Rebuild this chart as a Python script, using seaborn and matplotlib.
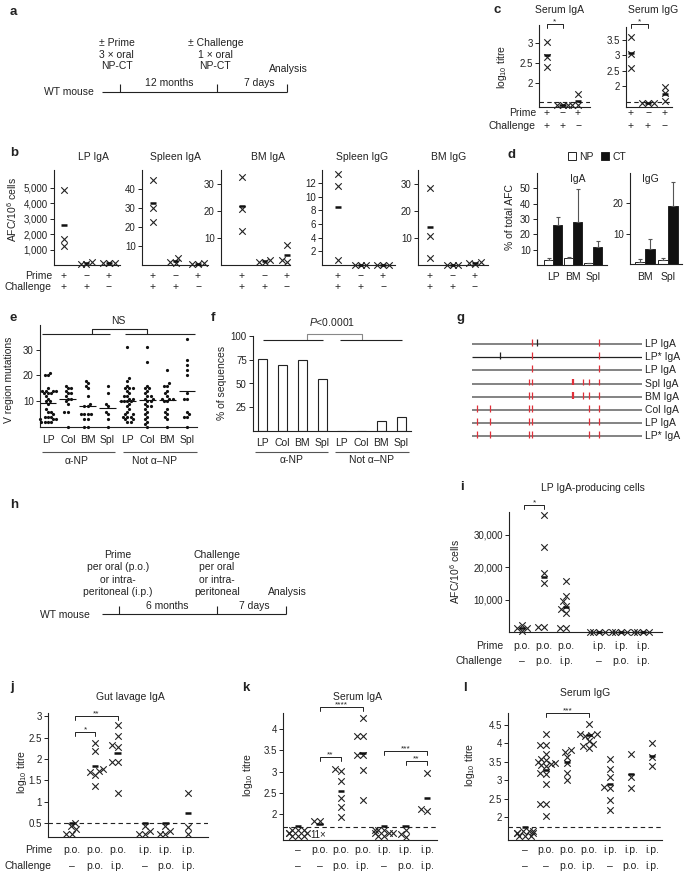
import warnings
import numpy as np
import pandas as pd
import matplotlib
matplotlib.use("Agg")
import matplotlib.pyplot as plt
import matplotlib.transforms as mtransforms
from matplotlib.markers import MarkerStyle
from matplotlib.patches import Patch
import seaborn as sns

warnings.filterwarnings("ignore")

sns.set_theme(style="ticks")
plt.rcParams["font.family"] = ["Liberation Sans", "DejaVu Sans"]
plt.rcParams["mathtext.fontset"] = "custom"
plt.rcParams["mathtext.rm"] = "Liberation Sans"
plt.rcParams["mathtext.it"] = "Liberation Sans:italic"
plt.rcParams["font.size"] = 7
plt.rcParams["axes.linewidth"] = 0.8
plt.rcParams["axes.edgecolor"] = "#222222"
plt.rcParams["text.color"] = "#222222"
plt.rcParams["ytick.color"] = "#222222"

# ---------------- data ----------------
# b: AFC/10^6 cells, groups (prime/challenge) = +/+, -/+, +/-
b_titles = ["LP IgA", "Spleen IgA", "BM IgA", "Spleen IgG", "BM IgG"]
b_lp_iga = [[4850, 1650, 1250], [50, 80, 200], [150, 150, 150]]
b_spleen_iga = [[44.5, 30, 22.5], [3.5, 1.5, 1.0], [0.6, 0.6, 1.0]]
b_bm_iga = [[32.5, 20.5, 12.5], [2.0, 1.2, 1.2], [7.5, 2.0, 1.0]]
b_spleen_igg = [[13.3, 11.5, 0.8], [0, 0, 0], [0, 0, 0]]
b_bm_igg = [[28.5, 10.5, 2.5], [0, 0, 0], [0.5, 1.0, 0.8]]
prime_pm = ["+", "−", "+"]
challenge_pm = ["+", "+", "−"]

# c: serum log10 titre
c_serum_iga = [[3.02, 2.65, 2.40], [1.45, 1.45, 1.45], [1.72, 1.45, 1.45]]
c_serum_igg = [[3.58, 3.05, 2.60], [1.45, 1.45, 1.45], [1.97, 1.78, 1.50]]
c_limit = [1.52, 1.48]

# d: % of total AFC (NP vs CT)
d_iga_tissue = ["LP", "BM", "Spl"]
d_iga_np = [3.0, 4.5, 1.2]
d_iga_np_err = [1.5, 1.0, 0.2]
d_iga_ct = [26.0, 28.0, 11.5]
d_iga_ct_err = [5.5, 21.5, 4.0]
d_igg_tissue = ["BM", "Spl"]
d_igg_np = [0.7, 1.2]
d_igg_np_err = [0.8, 0.8]
d_igg_ct = [5.0, 19.2]
d_igg_ct_err = [3.3, 7.8]

# e: V region mutations per sequence
e_labels = ["LP", "Col", "BM", "Spl", "LP", "Col", "BM", "Spl"]
e_np_lp = [21, 20, 20, 15, 14, 14, 14, 14, 13, 13, 13, 12, 11, 10, 10, 9, 7, 6, 6, 5,
           4, 4, 4, 3, 3, 3, 2, 2, 2, 2]
e_np_col = [16, 15, 15, 14, 13, 13, 12, 11, 11, 10, 9, 6, 6, 0]
e_np_bm = [18, 17, 16, 15, 12, 9, 8, 8, 5, 5, 5, 5, 3, 3, 0, 0]
e_np_spl = [16, 13, 9, 8, 6, 5, 3, 0]
e_not_lp = [31, 19, 18, 16, 15, 15, 15, 14, 13, 12, 12, 11, 11, 10, 10, 10, 10, 9, 8, 7,
            6, 5, 5, 4, 4, 4, 3, 3, 2, 2]
e_not_col = [31, 25, 16, 15, 15, 14, 13, 12, 12, 11, 11, 10, 10, 9, 8, 8, 7, 6, 5, 4,
             3, 2, 1, 0]
e_not_bm = [22, 17, 16, 16, 14, 13, 12, 11, 11, 11, 10, 10, 7, 6, 5, 4, 3, 0]
e_not_spl = [34, 26, 24, 22, 20, 13, 11, 11, 6, 5, 4, 4, 0]

# f: % of sequences
f_pct = [76, 69, 75, 55, 0, 0, 10, 15]

# g: mutation positions along V region (nt)
g_rows = ["LP IgA", "LP* IgA", "LP IgA", "Spl IgA", "BM IgA", "Col IgA", "LP IgA", "LP* IgA"]
g_red = [[105, 224], [105, 224], [105, 224],
         [100, 106, 178, 196, 207, 224], [100, 106, 178, 196, 207, 224],
         [8, 32, 100, 106, 207, 224], [8, 32, 100, 106, 207, 224], [8, 32, 100, 106, 207, 224]]
g_black = [[114], [50], [], [], [], [], [], []]

# i-l: prime / challenge groups
prime_route = ["p.o.", "p.o.", "p.o.", "i.p.", "i.p.", "i.p."]
challenge_route = ["–", "p.o.", "i.p.", "–", "p.o.", "i.p."]
prime_route7 = ["–", "p.o.", "p.o.", "p.o.", "i.p.", "i.p.", "i.p."]
challenge_route7 = ["–", "–", "p.o.", "i.p.", "–", "p.o.", "i.p."]

i_lp_iga = [[2150, 1300, 1100, 400], [36000, 26200, 18200, 15000, 1600, 1600],
            [15800, 11000, 9500, 8000, 7000, 6000, 1300, 1300],
            [150, 150, 150, 150], [150, 150, 150, 150], [150, 150, 150, 150]]
i_means = [1250, 16900, 7700, 150, 150, 150]

j_gut_iga = [[0.5, 0.42, 0.35, 0.25, 0.25], [2.38, 2.18, 1.76, 1.72, 1.70, 1.62, 1.37],
             [2.79, 2.53, 2.33, 2.28, 1.92, 1.92, 1.2], [0.42, 0.3, 0.25, 0.25],
             [0.42, 0.32, 0.25, 0.25], [1.2, 0.4, 0.25]]
j_means = [0.5, 1.84, 2.14, 0.5, 0.5, 0.73]
j_limit = 0.5

k_serum_iga = [[1.62, 1.62, 1.62, 1.55, 1.55, 1.55, 1.48, 1.48, 1.48], [1.84, 1.84],
               [3.05, 3.02, 2.79, 2.38, 2.16, 1.93], [4.26, 3.84, 3.84, 3.4, 3.4, 3.04, 2.33],
               [1.62, 1.62, 1.62, 1.55, 1.55, 1.55, 1.48, 1.48], [1.62, 1.52, 1.45],
               [2.96, 2.12, 2.08]]
k_means = [1.72, 1.76, 2.55, 3.43, 1.72, 1.72, 2.38]
k_limit = 1.7

l_serum_igg = [[1.62, 1.62, 1.62, 1.55, 1.55, 1.55, 1.48, 1.48, 1.48],
               [4.26, 3.97, 3.97, 3.72, 3.58, 3.55, 3.5, 3.48, 3.45, 3.42, 3.38, 3.2, 3.18,
                2.9, 2.35, 2.35, 2.03],
               [3.82, 3.77, 3.63, 3.47, 3.2, 3.0],
               [4.52, 4.27, 4.25, 4.22, 4.2, 4.08, 3.98, 3.92, 3.88],
               [3.58, 3.3, 3.1, 2.82, 2.78, 2.45, 2.18], [3.72, 3.1, 2.78], [4.02, 3.63, 3.38]]
l_means = [1.72, 3.28, 3.5, 4.22, 2.9, 3.18, 3.65]
l_limit = 1.72

# ---------------- layout helpers (pixels) ----------------
W, H = 685, 872
fig = plt.figure(figsize=(W / 100, H / 100), dpi=100)
INK = "#222222"

ov = fig.add_axes([0, 0, 1, 1], zorder=5)
ov.set_xlim(0, W)
ov.set_ylim(H, 0)
ov.axis("off")
ov.patch.set_visible(False)

# x marker drawn larger than the size used for swarm spacing, so crosses may touch
_xm = MarkerStyle("x")
BIG_X = _xm.get_path().transformed(_xm.get_transform() + mtransforms.Affine2D().scale(1.45))


def add_ax(left, right, top, bottom):
    ax = fig.add_axes([left / W, 1 - bottom / H, (right - left) / W, (bottom - top) / H])
    ax.patch.set_alpha(0)
    return ax


def text(x, y, s, size=7.5, **kw):
    kw.setdefault("ha", "center")
    kw.setdefault("va", "center")
    ov.text(x, y, s, fontsize=size, **kw)


def line(xs, ys, color=INK, lw=0.8):
    ov.plot(xs, ys, color=color, lw=lw, solid_capstyle="butt")


def row_text(ax, xs, y, labels, size=7.5):
    tr = mtransforms.blended_transform_factory(ax.transData, ov.transData)
    for x, s in zip(xs, labels):
        ax.text(x, y, s, transform=tr, ha="center", va="center", fontsize=size, clip_on=False)


def bracket(ax, x1, x2, y, label, color=INK, drop=4):
    tr = mtransforms.blended_transform_factory(ax.transData, ov.transData)
    ax.plot([x1, x1, x2, x2], [y + drop, y, y, y + drop], transform=tr, color=color,
            lw=0.7, clip_on=False)
    ax.text((x1 + x2) / 2, y - 1, label, transform=tr, ha="center", va="baseline",
            fontsize=6, clip_on=False)


def style(ax, ticks, labels=None):
    sns.despine(ax=ax)
    ax.set_xlabel("")
    ax.set_ylabel("")
    ax.set_xticks([])
    ax.set_yticks(ticks)
    if labels is not None:
        ax.set_yticklabels(labels)
    ax.tick_params(axis="y", length=3, width=0.7, pad=1.5, labelsize=7)


def xlim_px(spine, end, first, step):
    return ((spine - first) / step, (end - first) / step)


def cross_panel(box, pos, groups, means, xlim, ylim, ticks, labels=None, half=0.14,
                size=3.2):
    ax = add_ax(*box)
    df = pd.DataFrame({
        "pos": np.repeat(np.asarray(pos, float), [len(g) for g in groups]),
        "val": np.concatenate([np.asarray(g, float) for g in groups]),
    })
    sns.swarmplot(data=df, x="pos", y="val", native_scale=True, orient="v", marker="x",
                  color=INK, size=size, linewidth=0.8, ax=ax)
    for coll in ax.collections:
        coll.set_paths([BIG_X])
    p = np.asarray(pos, float)
    ax.hlines(means, p - half, p + half, color="#111111", lw=1.8, zorder=3)
    for coll in ax.collections:
        coll.set_clip_on(False)
    ax.set_xlim(*xlim)
    ax.set_ylim(*ylim)
    style(ax, ticks, labels)
    return ax


def limit_line(ax, y):
    ax.axhline(y, color=INK, lw=0.8, ls=(0, (4, 3)), zorder=1)


# ---------------- a: timeline ----------------
text(10, 12, "a", size=9.5, weight="bold", ha="left")
text(117, 43, "± Prime")
text(116, 55, "3 × oral")
text(117, 66, "NP-CT")
text(216, 43, "± Challenge")
text(215, 55, "1 × oral")
text(215, 66, "NP-CT")
text(288, 69, "Analysis")
text(169, 83, "12 months")
text(259, 83, "7 days")
text(94, 92, "WT mouse", ha="right")
line([102, 287], [92, 92])
for x in (120, 217, 287):
    line([x, x], [92, 84])

# ---------------- b ----------------
text(10, 153, "b", size=9.5, weight="bold", ha="left")
b_sets = [
    (b_lp_iga, (54, 120), 64, (0, 6130), [1000, 2000, 3000, 4000, 5000],
     ["1,000", "2,000", "3,000", "4,000", "5,000"], 93),
    (b_spleen_iga, (142, 208), 153, (0, 49.7), [10, 20, 30, 40], None, 175),
    (b_bm_iga, (221, 290), 242, (0, 35), [10, 20, 30], None, 268),
    (b_spleen_igg, (322, 395), 338, (0, 13.9), [2, 4, 6, 8, 10, 12], None, 362),
    (b_bm_igg, (418, 488), 430, (0, 35), [10, 20, 30], None, 449),
]
for k, (vals, (sx, ex), first, ylim, ticks, labs, tx) in enumerate(b_sets):
    means = [float(np.mean(g)) for g in vals]
    ax = cross_panel((sx, ex, 170, 265), [0, 1, 2], vals, means,
                     xlim_px(sx, ex, first, 22.5), ylim, ticks, labs, half=0.13)
    text(tx, 157, b_titles[k])
    row_text(ax, [0, 1, 2], 276, prime_pm)
    row_text(ax, [0, 1, 2], 287, challenge_pm)
text(52, 276, "Prime", ha="right")
text(52, 287, "Challenge", ha="right")
text(12, 210, "AFC/10$^6$ cells", rotation=90)

# ---------------- c ----------------
text(494, 10, "c", size=9.5, weight="bold", ha="left")
ax = cross_panel((539, 590, 25, 107), [0, 1, 2], c_serum_iga,
                 [float(np.mean(g)) for g in c_serum_iga],
                 xlim_px(539, 590, 547, 15.5), (1.4, 3.45), [2, 2.5, 3], ["2", "2.5", "3"],
                 half=0.2)
limit_line(ax, c_limit[0])
bracket(ax, 0, 1, 24, "*")
row_text(ax, [0, 1, 2], 113, prime_pm)
row_text(ax, [0, 1, 2], 126, challenge_pm)
text(560, 10, "Serum IgA")
ax = cross_panel((626, 672, 27, 107), [0, 1, 2], c_serum_igg,
                 [float(np.mean(g)) for g in c_serum_igg],
                 xlim_px(626, 672, 631, 17), (1.32, 3.92), [2, 2.5, 3, 3.5],
                 ["2", "2.5", "3", "3.5"], half=0.18)
limit_line(ax, c_limit[1])
bracket(ax, 0, 1, 24, "*")
row_text(ax, [0, 1, 2], 113, prime_pm)
row_text(ax, [0, 1, 2], 126, challenge_pm)
text(653, 10, "Serum IgG")
text(536, 113, "Prime", ha="right")
text(536, 126, "Challenge", ha="right")
text(502, 67, "log$_{10}$ titre", rotation=90)

# ---------------- d ----------------
text(508, 155, "d", size=9.5, weight="bold", ha="left")
d_palette = {"NP": "white", "CT": "#111111"}


def bar_pair(box, tissues, np_v, np_e, ct_v, ct_e, xlim, ylim, ticks, width):
    ax = add_ax(*box)
    df = pd.DataFrame({
        "tissue": tissues * 2,
        "antigen": ["NP"] * len(tissues) + ["CT"] * len(tissues),
        "pct": list(np_v) + list(ct_v),
    })
    sns.barplot(data=df, x="tissue", y="pct", hue="antigen", order=tissues,
                hue_order=["NP", "CT"], palette=d_palette, edgecolor=INK, linewidth=0.7,
                width=width, gap=0, errorbar=None, legend=False, ax=ax)
    pos = np.arange(len(tissues))
    for off, v, e in ((-width / 4, np_v, np_e), (width / 4, ct_v, ct_e)):
        ax.errorbar(pos + off, v, yerr=[np.zeros(len(v)), e], fmt="none", ecolor="#555555",
                    elinewidth=0.8, capsize=1.6, capthick=0.8)
    ax.set_xlim(*xlim)
    ax.set_ylim(*ylim)
    style(ax, ticks)
    row_text(ax, pos, 277, tissues)
    return ax


ax = bar_pair((537, 607, 173, 265), d_iga_tissue, d_iga_np, d_iga_np_err, d_iga_ct,
              d_iga_ct_err, (-0.8, 2.7), (0, 60), [10, 20, 30, 40, 50], 0.9)
text(578, 179, "IgA")
ax = bar_pair((630, 682, 173, 264), d_igg_tissue, d_igg_np, d_igg_np_err, d_igg_ct,
              d_igg_ct_err, (-0.65, 1.61), (0, 30), [10, 20], 0.85)
text(650, 179, "IgG")
text(510, 217, "% of total AFC", rotation=90)
handles = [Patch(facecolor=d_palette[h], edgecolor=INK, linewidth=0.7) for h in ("NP", "CT")]
fig.legend(handles, ["NP", "CT"], loc="center", bbox_to_anchor=(597 / W, 1 - 157 / H),
           ncol=2, frameon=False, fontsize=7.5, handlelength=0.8, handleheight=0.8,
           handletextpad=0.3, columnspacing=0.7)

# ---------------- e ----------------
text(10, 318, "e", size=9.5, weight="bold", ha="left")
e_groups = [e_np_lp, e_np_col, e_np_bm, e_np_spl, e_not_lp, e_not_col, e_not_bm, e_not_spl]
ax = add_ax(40, 197, 325, 427)
e_df = pd.DataFrame({
    "pos": np.repeat(np.arange(8, dtype=float), [len(g) for g in e_groups]),
    "mut": np.concatenate([np.asarray(g, float) for g in e_groups]),
})
sns.swarmplot(data=e_df, x="pos", y="mut", native_scale=True, orient="v", color="#111111",
              size=2.3, linewidth=0, ax=ax)
e_means = e_df.groupby("pos")["mut"].mean()
ax.hlines(e_means.values, e_means.index - 0.42, e_means.index + 0.42, color="#111111", lw=0.8)
for coll in ax.collections:
    coll.set_clip_on(False)
ax.set_xlim(-0.4, 7.5)
ax.set_ylim(0, 39.5)
style(ax, [10, 20, 30])
row_text(ax, np.arange(8), 440, e_labels)
text(9, 380, "V region mutations", rotation=90)
line([42, 110], [334, 334])
line([125, 195], [334, 334])
line([92, 92, 147, 147], [334, 329, 329, 334])
text(118, 321, "NS")
line([42, 115], [452, 452], color="#555555")
line([123, 197], [452, 452], color="#555555")
text(77, 461, "α-NP")
text(155, 461, "Not α–NP")

# ---------------- f ----------------
text(211, 318, "f", size=9.5, weight="bold", ha="left")
ax = add_ax(253, 411, 336, 431)
f_df = pd.DataFrame({"cat": [f"{s}{k}" for k, s in enumerate(e_labels)], "pct": f_pct})
sns.barplot(data=f_df, x="cat", y="pct", color="white", edgecolor=INK, linewidth=0.8,
            width=0.45, ax=ax)
ax.set_xlim(-0.5, 7.5)
ax.set_ylim(0, 100)
style(ax, [25, 50, 75, 100])
row_text(ax, np.arange(8), 443, e_labels)
text(222, 383, "% of sequences", rotation=90)
line([307, 307, 362, 362], [340, 334, 334, 340], color="#888888")
line([263, 323], [340, 340])
line([340, 402], [340, 340])
text(332, 322, "$P$<0.0001")
line([255, 328], [452, 452], color="#555555")
line([335, 409], [452, 452], color="#555555")
text(292, 460, "α-NP")
text(372, 460, "Not α–NP")

# ---------------- g ----------------
text(457, 318, "g", size=9.5, weight="bold", ha="left")
ax = add_ax(472, 642, 337.4, 443)
for r in range(len(g_rows)):
    ax.hlines(r, 0, 300, color="#222222" if r == 1 else "#7a7a7a",
              lw=0.9 if r == 1 else 1.3)
    red = np.asarray(g_red[r], float)
    widths = [1.6 if (r in (3, 4) and p == 178) else 0.9 for p in red]
    ax.vlines(red, r - 0.38, r + 0.14, color="#e0303a", lw=widths)
    if g_black[r]:
        ax.vlines(g_black[r], r - 0.38, r + 0.14, color="#222222", lw=0.9)
    text(645, 344 + 13.2 * r, g_rows[r], ha="left")
ax.set_xlim(0, 300)
ax.set_ylim(7.5, -0.5)
ax.axis("off")

# ---------------- h: timeline ----------------
text(10, 505, "h", size=9.5, weight="bold", ha="left")
text(118, 555, "Prime")
text(118, 567, "per oral (p.o.)")
text(118, 580, "or intra-")
text(118, 592, "peritoneal (i.p.)")
text(217, 555, "Challenge")
text(217, 567, "per oral")
text(217, 580, "or intra-")
text(217, 592, "peritoneal")
text(287, 592, "Analysis")
text(167, 606, "6 months")
text(254, 606, "7 days")
text(90, 615, "WT mouse", ha="right")
line([102, 286], [614, 614])
for x in (119, 217, 286):
    line([x, x], [614, 606])

# ---------------- i ----------------
text(460, 487, "i", size=9.5, weight="bold", ha="left")
i_pos = [0, 1, 2, 3.5, 4.5, 5.5]
ax = cross_panel((509, 662, 512, 632), i_pos, i_lp_iga, i_means, xlim_px(509, 662, 522, 22),
                 (0, 37000), [10000, 20000, 30000], ["10,000", "20,000", "30,000"])
bracket(ax, 0.1, 1, 505, "*")
row_text(ax, i_pos, 646, prime_route)
row_text(ax, i_pos, 661, challenge_route)
text(503, 646, "Prime", ha="right")
text(503, 661, "Challenge", ha="right")
text(593, 488, "LP IgA-producing cells")
text(455, 572, "AFC/10$^6$ cells", rotation=90)

# ---------------- j ----------------
text(10, 687, "j", size=9.5, weight="bold", ha="left")
j_pos = [0, 1, 2, 3.2, 4.1, 5.1]
ax = cross_panel((48, 208, 713, 837), j_pos, j_gut_iga, j_means, xlim_px(48, 208, 72, 22.8),
                 (0.17, 3.08), [0.5, 1, 1.5, 2, 2.5, 3], ["0.5", "1", "1.5", "2", "2.5", "3"])
limit_line(ax, j_limit)
bracket(ax, 0.15, 1, 732, "*")
bracket(ax, 0.15, 2, 716, "**")
row_text(ax, j_pos, 850, prime_route)
row_text(ax, j_pos, 866, challenge_route)
text(52, 850, "Prime", ha="right")
text(52, 866, "Challenge", ha="right")
text(130, 697, "Gut lavage IgA")
text(22, 772, "log$_{10}$ titre", rotation=90)

# ---------------- k ----------------
text(242, 688, "k", size=9.5, weight="bold", ha="left")
k_pos = list(range(7))
ax = cross_panel((283, 437, 713, 840), k_pos, k_serum_iga, k_means,
                 xlim_px(283, 437, 298, 21.5), (1.39, 4.38), [2, 2.5, 3, 3.5, 4],
                 ["2", "2.5", "3", "3.5", "4"])
limit_line(ax, k_limit)
bracket(ax, 1, 3, 707, "****")
bracket(ax, 1, 2, 757, "**")
bracket(ax, 4, 6, 751, "***")
bracket(ax, 5, 6, 761, "**")
row_text(ax, k_pos, 850, prime_route7)
row_text(ax, k_pos, 866, challenge_route7)
text(318, 835, "11×", size=7)
text(358, 697, "Serum IgA")
text(248, 775, "log$_{10}$ titre", rotation=90)

# ---------------- l ----------------
text(463, 688, "l", size=9.5, weight="bold", ha="left")
l_pos = list(range(7))
ax = cross_panel((508, 662, 713, 840), l_pos, l_serum_igg, l_means,
                 xlim_px(508, 662, 525, 21.2), (1.37, 4.83), [2, 2.5, 3, 3.5, 4, 4.5],
                 ["2", "2.5", "3", "3.5", "4", "4.5"])
limit_line(ax, l_limit)
bracket(ax, 1, 3, 713, "***")
row_text(ax, l_pos, 850, prime_route7)
row_text(ax, l_pos, 866, challenge_route7)
text(585, 693, "Serum IgG")
text(470, 765, "log$_{10}$ titre", rotation=90)

fig.savefig("out.png", dpi=100)
